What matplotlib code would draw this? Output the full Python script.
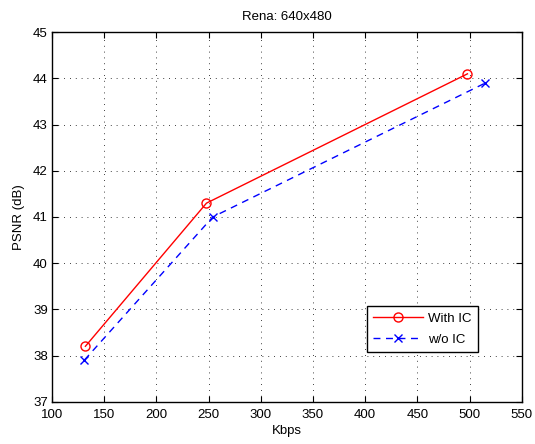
import matplotlib
matplotlib.use("Agg")
import matplotlib.pyplot as plt

plt.rcParams['font.family'] = ['Liberation Sans', 'DejaVu Sans']

kbps_ic = [132, 248, 498]
psnr_ic = [38.2, 41.3, 44.1]
kbps_noic = [131, 254, 515]
psnr_noic = [37.9, 41.0, 43.9]
xticks = [100, 150, 200, 250, 300, 350, 400, 450, 500, 550]
yticks = [37, 38, 39, 40, 41, 42, 43, 44, 45]

fs = 9.5

fig = plt.figure(figsize=(5.35, 4.44), dpi=100)
ax = fig.add_axes([0.0972, 0.0953, 0.878, 0.832])

ax.plot(kbps_ic, psnr_ic, '-', color='red', lw=1.0, marker='o', ms=6.5,
        mfc='none', mec='red', mew=1.0, label='With IC')
ax.plot(kbps_noic, psnr_noic, '--', color='blue', lw=1.0, marker='x', ms=6.0,
        mew=1.0, label='w/o IC', dashes=(5, 4))

ax.set_xlim(100, 550)
ax.set_ylim(37, 45)
ax.set_xticks(xticks)
ax.set_yticks(yticks)
ax.tick_params(direction='in', top=True, right=True, labelsize=fs, length=4, width=0.8)
ax.tick_params(axis='x', pad=5.5)
ax.tick_params(axis='y', pad=3)
ax.grid(True, color='black', linestyle=(0, (1, 6)), linewidth=0.6)
for s in ax.spines.values():
    s.set_linewidth(1.0)

ax.set_xlabel('Kbps', fontsize=fs, labelpad=3)
ax.set_ylabel('PSNR (dB)', fontsize=fs, labelpad=6)
ax.set_title('Rena: 640x480', fontsize=fs, pad=9)

leg = ax.legend(loc='upper left', bbox_to_anchor=(0.670, 0.259), borderaxespad=0,
                fancybox=False, edgecolor='black', framealpha=1, fontsize=fs,
                handlelength=3.8, borderpad=0.5, labelspacing=0.65, handletextpad=0.35)
leg.get_frame().set_linewidth(1.0)

fig.savefig('out.png', dpi=100)
